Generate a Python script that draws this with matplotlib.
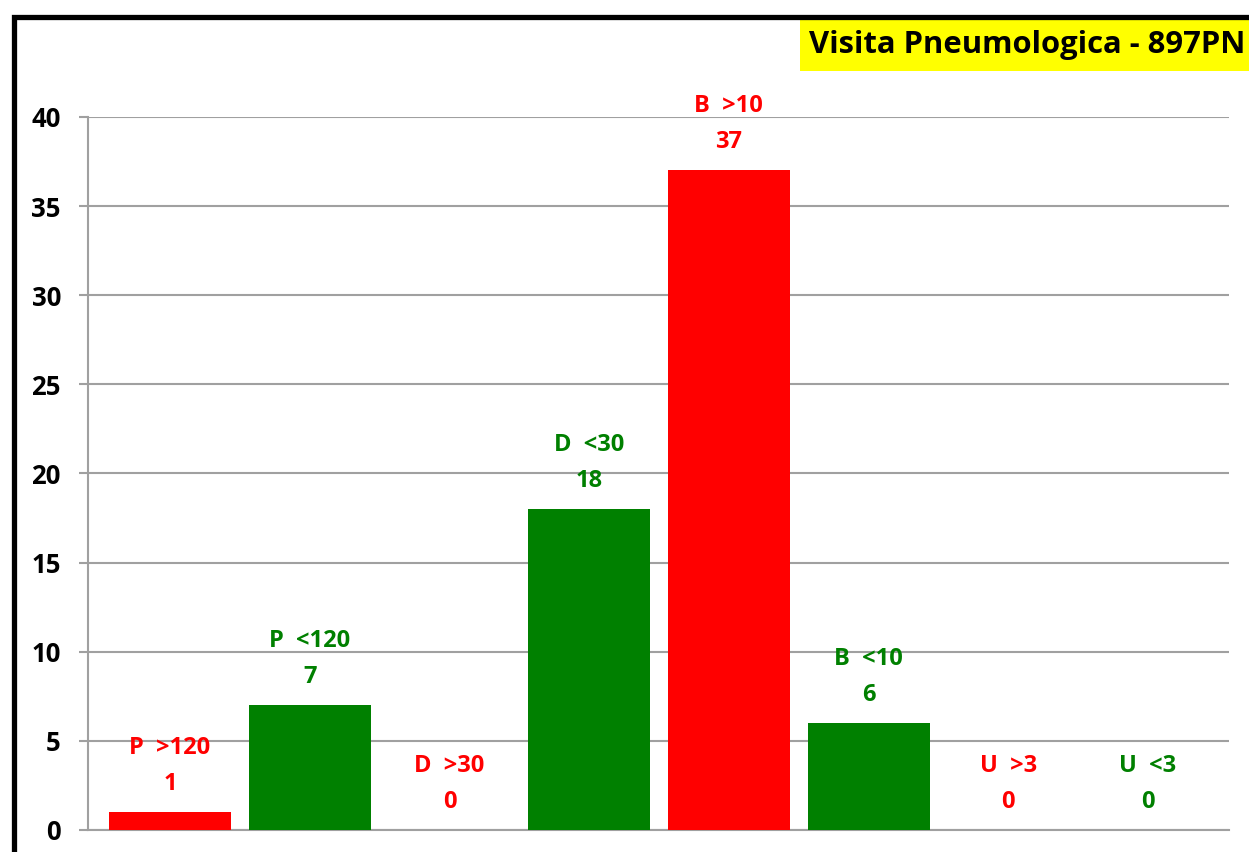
import matplotlib
matplotlib.use("Agg")
import matplotlib.pyplot as plt
from matplotlib.patches import Rectangle

categories = ["P  >120", "P  <120", "D  >30", "D  <30", "B  >10", "B  <10", "U  >3", "U  <3"]
values = [1, 7, 0, 18, 37, 6, 0, 0]
colors = ["#ff0000", "#008000", "#ff0000", "#008000", "#ff0000", "#008000", "#ff0000", "#008000"]
yticks = [0, 5, 10, 15, 20, 25, 30, 35, 40]
title = "Visita Pneumologica - 897PN"

W, H = 1249, 852
fig = plt.figure(figsize=(W / 100, H / 100), dpi=100)
fam = ["Open Sans", "DejaVu Sans"]

# axes placement in pixels
left, right, top, bottom = 88, 1229, 117, 830
ax = fig.add_axes([left / W, 1 - bottom / H, (right - left) / W, (bottom - top) / H])

x = list(range(len(categories)))
ax.bar(x, values, width=0.873, color=colors, zorder=3)
ax.set_xlim(-0.587, 7.58)
ax.set_ylim(0, 40)
ax.set_yticks(yticks)
ax.set_yticklabels([str(t) for t in yticks], fontsize=18.5, fontweight="bold", family=fam)
ax.tick_params(axis="y", length=6.5, width=1.5, color="#a0a0a0", pad=13)
ax.set_xticks([])
ax.grid(axis="y", color="#a0a0a0", linewidth=1.5, zorder=0)
for s in ["top", "right"]:
    ax.spines[s].set_visible(False)
ax.spines["left"].set_color("#a0a0a0")
ax.spines["left"].set_linewidth(1.5)
ax.spines["bottom"].set_color("#a0a0a0")
ax.spines["bottom"].set_linewidth(1.5)

for xi, v, c, name in zip(x, values, colors, categories):
    ax.annotate(str(v), (xi, v), xytext=(0, 28 * 0.72), textcoords="offset points",
                ha="center", va="center", fontsize=17, fontweight="bold", color=c, family=fam)
    ax.annotate(name, (xi, v), xytext=(0, 64 * 0.72), textcoords="offset points",
                ha="center", va="center", fontsize=17, fontweight="bold", color=c, family=fam)

# outer black frame
fig.patches.append(Rectangle((14 / W, -0.2), 1.2, 1 - 16.5 / H + 0.2, transform=fig.transFigure,
                             fill=False, edgecolor="black", linewidth=3.8, zorder=10))

# title box
fig.patches.append(Rectangle((800 / W, 1 - 71 / H), (W - 800) / W + 0.01, 51 / H,
                             transform=fig.transFigure, facecolor="#ffff00", edgecolor="none", zorder=5))
fig.text(809 / W, 1 - 45 / H, title, ha="left", va="center", fontsize=22.3, fontweight="bold",
         family=fam, color="black", zorder=6)

fig.savefig("out.png", dpi=100)
